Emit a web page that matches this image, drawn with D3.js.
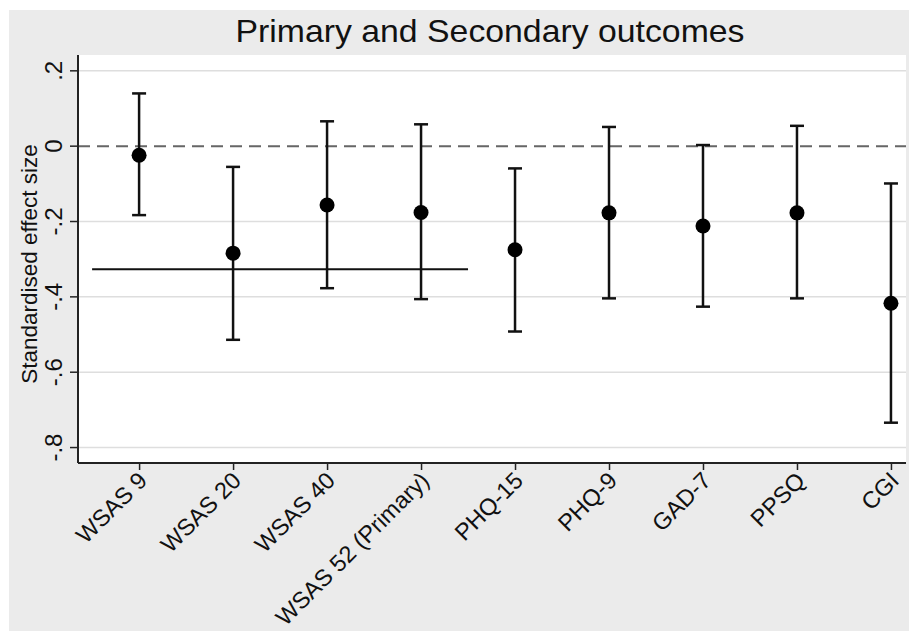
<!DOCTYPE html>
<html>
<head>
<meta charset="utf-8">
<script src="https://cdn.jsdelivr.net/npm/d3@7"></script>
<style>
  body { margin: 0; background: #fff; }
  text { font-family: "Liberation Sans", Arial, sans-serif; fill: #111; }
</style>
</head>
<body>
<div id="chart"></div>
<script>
// outcomes and effect sizes with 95% CI
const outcomes = ['WSAS 9', 'WSAS 20', 'WSAS 40', 'WSAS 52 (Primary)', 'PHQ-15', 'PHQ-9', 'GAD-7', 'PPSQ', 'CGI'];
const effect = [-0.024, -0.284, -0.156, -0.176, -0.275, -0.177, -0.212, -0.177, -0.417];
const lower = [-0.183, -0.514, -0.377, -0.406, -0.492, -0.404, -0.426, -0.404, -0.734];
const upper = [0.140, -0.055, 0.066, 0.058, -0.059, 0.051, 0.003, 0.054, -0.099];
const yTicks = [0.2, 0, -0.2, -0.4, -0.6, -0.8];
const yTickLabels = ['.2', '0', '-.2', '-.4', '-.6', '-.8'];
// solid reference line across the WSAS outcomes
const refLine = { from: 0.5, to: 4.5, value: -0.327 };

const svgWidth = 909;
const svgHeight = 631;
const plot = { left: 78, right: 906, top: 55, bottom: 463 };

const svg = d3.select('#chart').append('svg')
  .attr('width', svgWidth)
  .attr('height', svgHeight);

svg.append('rect')
  .attr('x', 9).attr('y', 10)
  .attr('width', svgWidth - 9).attr('height', svgHeight - 10)
  .attr('fill', '#ebebeb');

svg.append('rect')
  .attr('x', plot.left).attr('y', plot.top)
  .attr('width', plot.right - plot.left).attr('height', plot.bottom - plot.top)
  .attr('fill', '#fff');

const x = d3.scaleLinear().domain([0.35, 9.16]).range([plot.left, plot.right]);
const y = d3.scaleLinear().domain([-0.841, 0.242]).range([plot.bottom, plot.top]);

// gridlines
svg.append('g').selectAll('line')
  .data(yTicks.filter(d => d !== 0))
  .enter().append('line')
  .attr('x1', plot.left).attr('x2', plot.right)
  .attr('y1', d => y(d)).attr('y2', d => y(d))
  .attr('stroke', '#dedede')
  .attr('stroke-width', 1.5);

// zero line
svg.append('line')
  .attr('x1', plot.left).attr('x2', plot.right)
  .attr('y1', y(0)).attr('y2', y(0))
  .attr('stroke', '#666')
  .attr('stroke-width', 2)
  .attr('stroke-dasharray', '12,7');

// y axis
const leftAxis = d3.axisLeft(y)
  .tickValues(yTicks)
  .tickSize(8)
  .tickFormat((d, i) => yTickLabels[i]);

const yAxis = svg.append('g')
  .attr('transform', `translate(${plot.left},0)`)
  .call(leftAxis);
yAxis.select('.domain').remove();
yAxis.selectAll('.tick').attr('transform', null);
yAxis.selectAll('.tick line')
  .attr('y1', d => y(d)).attr('y2', d => y(d))
  .attr('stroke', '#222').attr('stroke-width', 1.5);
yAxis.selectAll('text')
  .attr('font-size', '24px')
  .attr('text-anchor', 'middle')
  .attr('x', null).attr('dy', null).attr('y', 0)
  .attr('transform', d => `translate(-16, ${y(d)}) rotate(-90)`);

// x axis
const bottomAxis = d3.axisBottom(x)
  .tickValues(d3.range(1, outcomes.length + 1))
  .tickSize(7)
  .tickFormat(d => outcomes[d - 1]);

const xAxis = svg.append('g')
  .attr('transform', `translate(0,${plot.bottom})`)
  .call(bottomAxis);
xAxis.select('.domain').remove();
xAxis.selectAll('line').attr('stroke', '#222').attr('stroke-width', 1.5);
xAxis.selectAll('text')
  .attr('font-size', '23.5px')
  .attr('text-anchor', 'end')
  .attr('y', 0).attr('dy', null)
  .attr('transform', 'translate(9, 19) rotate(-45)');

// axis lines
svg.append('line')
  .attr('x1', plot.left).attr('x2', plot.left)
  .attr('y1', plot.top).attr('y2', plot.bottom)
  .attr('stroke', '#222').attr('stroke-width', 2);
svg.append('line')
  .attr('x1', plot.left).attr('x2', plot.right)
  .attr('y1', plot.bottom).attr('y2', plot.bottom)
  .attr('stroke', '#222').attr('stroke-width', 2);

// reference line
svg.append('line')
  .attr('x1', x(refLine.from)).attr('x2', x(refLine.to))
  .attr('y1', y(refLine.value)).attr('y2', y(refLine.value))
  .attr('stroke', '#111').attr('stroke-width', 2);

// error bars
const bars = svg.append('g').selectAll('g')
  .data(outcomes)
  .enter().append('g');

bars.append('line')
  .attr('x1', (d, i) => x(i + 1)).attr('x2', (d, i) => x(i + 1))
  .attr('y1', (d, i) => y(upper[i])).attr('y2', (d, i) => y(lower[i]))
  .attr('stroke', '#111').attr('stroke-width', 2.5);

bars.append('line')
  .attr('x1', (d, i) => x(i + 1) - 7).attr('x2', (d, i) => x(i + 1) + 7)
  .attr('y1', (d, i) => y(upper[i])).attr('y2', (d, i) => y(upper[i]))
  .attr('stroke', '#111').attr('stroke-width', 2.5);

bars.append('line')
  .attr('x1', (d, i) => x(i + 1) - 7).attr('x2', (d, i) => x(i + 1) + 7)
  .attr('y1', (d, i) => y(lower[i])).attr('y2', (d, i) => y(lower[i]))
  .attr('stroke', '#111').attr('stroke-width', 2.5);

bars.append('circle')
  .attr('cx', (d, i) => x(i + 1))
  .attr('cy', (d, i) => y(effect[i]))
  .attr('r', 7.5)
  .attr('fill', '#000');

// titles
svg.append('text')
  .attr('x', 490).attr('y', 42)
  .attr('text-anchor', 'middle')
  .attr('font-size', '32px')
  .attr('textLength', 509)
  .attr('lengthAdjust', 'spacingAndGlyphs')
  .text('Primary and Secondary outcomes');

svg.append('text')
  .attr('transform', `translate(37, ${(plot.top + plot.bottom) / 2 + 5}) rotate(-90)`)
  .attr('text-anchor', 'middle')
  .attr('font-size', '22.5px')
  .text('Standardised effect size');
</script>
</body>
</html>
